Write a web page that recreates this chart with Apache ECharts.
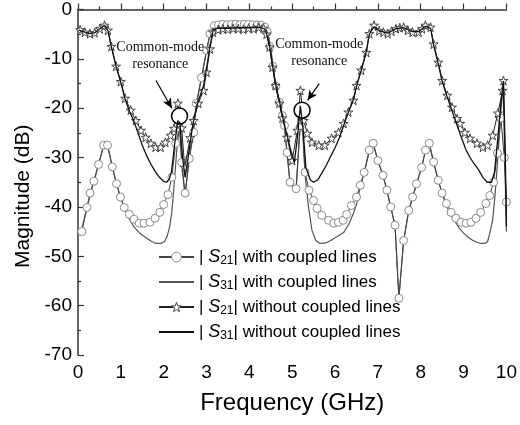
<!DOCTYPE html>
<html>
<head>
<meta charset="utf-8">
<script src="https://cdn.jsdelivr.net/npm/echarts@6/dist/echarts.min.js"></script>
<style>
  html, body { margin: 0; padding: 0; background: #fff; }
  #chart { width: 520px; height: 425px; }
</style>
</head>
<body>
<div id="chart"></div>
<script>
// values: [frequency GHz, magnitude dB]
var s21With = [
  [0.09,-45.0],[0.21,-40.1],[0.28,-37.2],[0.37,-34.8],[0.48,-31.4],[0.60,-27.5],[0.69,-27.5],
  [0.80,-31.9],[0.90,-35.3],[0.99,-38.0],[1.08,-40.1],[1.20,-41.5],[1.31,-42.5],[1.43,-43.3],
  [1.54,-43.3],[1.68,-43.1],[1.80,-42.3],[1.91,-41.1],[2.00,-39.5],[2.10,-37.5],[2.19,-34.0],
  [2.28,-27.1],[2.37,-24.0],[2.42,-31.0],[2.50,-37.2],[2.60,-30.2],[2.70,-24.9],[2.76,-19.0],
  [2.88,-13.8],[3.00,-8.3],[3.08,-4.9],[3.18,-3.3],[3.28,-3.1],[3.38,-3.0],[3.48,-3.1],
  [3.58,-3.0],[3.68,-3.0],[3.78,-3.1],[3.88,-3.0],[3.98,-3.0],[4.08,-3.1],[4.18,-3.1],
  [4.28,-3.2],[4.36,-3.6],[4.42,-4.6],[4.48,-7.5],[4.55,-11.5],[4.62,-15.5],[4.70,-18.8],
  [4.77,-21.5],[4.82,-23.5],[4.88,-29.0],[4.95,-35.0],[5.09,-36.3],[5.18,-23.9],[5.23,-22.0],
  [5.30,-33.0],[5.39,-36.6],[5.50,-38.7],[5.58,-40.3],[5.69,-41.7],[5.85,-42.7],[5.97,-43.3],
  [6.08,-43.1],[6.19,-42.7],[6.27,-41.5],[6.38,-39.7],[6.50,-38.0],[6.59,-35.6],[6.68,-33.0],
  [6.80,-28.5],[6.89,-27.1],[7.00,-30.6],[7.12,-33.6],[7.21,-36.6],[7.30,-40.0],[7.40,-43.7],
  [7.49,-58.5],[7.60,-46.8],[7.72,-40.7],[7.81,-38.0],[7.90,-35.3],[8.02,-32.0],[8.11,-28.5],
  [8.20,-27.1],[8.30,-30.9],[8.41,-34.6],[8.50,-37.2],[8.60,-39.3],[8.71,-41.1],[8.82,-42.3],
  [8.94,-43.1],[9.06,-43.3],[9.17,-43.1],[9.29,-42.3],[9.40,-41.1],[9.52,-39.3],[9.61,-37.7],
  [9.70,-35.0],[9.79,-29.1],[9.87,-22.0],[9.95,-30.0],[10.0,-39.0]
];

var s31With = [
  [0.06,-45.5],[0.21,-40.1],[0.37,-34.8],[0.48,-31.4],[0.60,-27.5],[0.69,-27.5],[0.80,-31.9],
  [0.90,-35.3],[0.99,-38.0],[1.08,-40.1],[1.20,-42.5],[1.31,-44.1],[1.45,-45.4],[1.58,-46.2],
  [1.70,-46.9],[1.82,-47.4],[1.94,-47.4],[2.02,-47.0],[2.08,-46.0],[2.14,-44.0],[2.19,-41.0],
  [2.24,-36.0],[2.30,-29.0],[2.37,-23.0],[2.43,-32.0],[2.50,-38.0],[2.58,-31.0],[2.68,-25.0],
  [2.76,-19.5],[2.88,-14.0],[3.00,-8.5],[3.08,-5.0],[3.20,-3.3],[3.50,-3.2],[3.80,-3.2],
  [4.10,-3.2],[4.30,-3.3],[4.36,-3.7],[4.42,-4.8],[4.50,-7.4],[4.55,-11.8],[4.62,-15.8],
  [4.70,-19.0],[4.77,-21.8],[4.82,-23.8],[4.88,-29.3],[4.95,-35.3],[5.09,-36.6],[5.18,-24.2],
  [5.23,-22.3],[5.30,-33.5],[5.38,-40.0],[5.46,-44.7],[5.55,-46.8],[5.65,-47.4],[5.78,-47.3],
  [5.90,-46.8],[6.05,-46.0],[6.20,-45.2],[6.32,-43.5],[6.42,-41.5],[6.50,-39.5],[6.59,-36.0],
  [6.68,-33.1],[6.80,-28.6],[6.89,-27.2],[7.00,-30.7],[7.12,-33.7],[7.21,-36.7],[7.30,-40.1],
  [7.40,-43.8],[7.49,-58.4],[7.60,-46.9],[7.72,-40.8],[7.81,-38.1],[7.90,-35.4],[8.02,-32.1],
  [8.11,-28.6],[8.20,-27.2],[8.30,-31.0],[8.41,-34.7],[8.50,-37.3],[8.60,-39.8],[8.70,-41.5],
  [8.80,-43.0],[8.90,-44.3],[9.00,-45.3],[9.10,-46.1],[9.20,-46.7],[9.30,-47.1],[9.40,-47.4],
  [9.50,-47.4],[9.56,-47.0],[9.62,-45.0],[9.68,-42.5],[9.74,-37.0],[9.80,-30.0],[9.86,-22.0],
  [9.92,-15.0],[9.96,-30.0],[10.0,-45.0]
];

var s21Without = [
  [0.05,-4.1],[0.16,-4.6],[0.28,-4.9],[0.39,-4.7],[0.51,-3.9],[0.62,-3.2],[0.70,-4.2],
  [0.78,-7.5],[0.89,-11.5],[1.00,-14.6],[1.10,-18.0],[1.23,-20.4],[1.35,-22.5],[1.47,-24.5],
  [1.58,-25.9],[1.70,-27.1],[1.81,-27.9],[1.93,-27.9],[2.04,-26.9],[2.16,-25.5],[2.24,-24.1],
  [2.33,-19.0],[2.42,-24.0],[2.49,-32.0],[2.62,-26.0],[2.70,-22.5],[2.81,-19.0],[2.93,-16.4],
  [3.00,-12.7],[3.08,-8.0],[3.15,-4.6],[3.27,-4.1],[3.38,-3.9],[3.50,-4.0],[3.62,-3.8],
  [3.74,-3.9],[3.86,-4.0],[3.98,-3.8],[4.10,-3.9],[4.22,-3.6],[4.33,-3.8],[4.40,-5.0],
  [4.47,-7.6],[4.54,-11.7],[4.61,-15.4],[4.70,-19.0],[4.77,-22.0],[4.88,-25.9],[5.00,-30.6],
  [5.12,-24.5],[5.19,-16.4],[5.27,-22.5],[5.35,-25.1],[5.46,-26.9],[5.62,-27.5],[5.76,-27.5],
  [5.92,-26.1],[6.08,-24.9],[6.20,-23.1],[6.31,-20.8],[6.43,-18.4],[6.50,-15.4],[6.61,-12.3],
  [6.73,-8.7],[6.80,-4.9],[6.91,-3.2],[7.03,-4.3],[7.13,-4.6],[7.23,-4.9],[7.32,-4.4],
  [7.42,-3.9],[7.51,-3.7],[7.60,-3.6],[7.70,-4.2],[7.81,-4.6],[7.95,-4.6],[8.03,-3.9],
  [8.11,-3.2],[8.23,-3.6],[8.30,-7.0],[8.41,-10.7],[8.50,-14.4],[8.62,-17.4],[8.73,-19.8],
  [8.85,-22.1],[8.92,-23.1],[9.03,-24.9],[9.15,-26.1],[9.31,-27.1],[9.45,-27.9],[9.56,-27.5],
  [9.68,-25.5],[9.80,-21.0],[9.91,-16.4],[9.93,-14.4],[9.97,-30.0],[10.0,-42.0]
];

var s31Without = [
  [0.02,-4.2],[0.16,-4.6],[0.28,-4.9],[0.39,-4.7],[0.51,-3.9],[0.62,-3.2],[0.70,-4.3],
  [0.78,-7.6],[0.89,-11.6],[1.00,-14.8],[1.10,-18.2],[1.20,-20.6],[1.30,-22.5],[1.40,-25.0],
  [1.50,-27.5],[1.60,-29.6],[1.70,-31.3],[1.80,-32.8],[1.90,-34.0],[2.00,-34.8],[2.07,-35.0],
  [2.13,-34.3],[2.18,-33.0],[2.26,-27.0],[2.33,-22.5],[2.38,-23.0],[2.44,-30.0],[2.50,-34.0],
  [2.57,-30.0],[2.65,-25.0],[2.72,-21.5],[2.81,-18.5],[2.93,-15.5],[3.00,-12.0],[3.08,-7.5],
  [3.15,-4.3],[3.25,-3.8],[3.50,-3.8],[3.75,-3.7],[4.00,-3.7],[4.25,-3.6],[4.35,-3.9],
  [4.40,-4.8],[4.47,-7.3],[4.54,-11.3],[4.61,-15.0],[4.70,-18.5],[4.77,-21.5],[4.85,-24.5],
  [4.95,-28.0],[5.05,-31.0],[5.12,-26.0],[5.19,-19.5],[5.25,-24.0],[5.32,-32.0],[5.42,-34.5],
  [5.50,-35.0],[5.60,-34.5],[5.70,-33.0],[5.80,-31.5],[5.90,-29.7],[6.00,-28.0],[6.10,-26.0],
  [6.20,-23.5],[6.31,-20.8],[6.43,-18.2],[6.50,-15.6],[6.61,-12.3],[6.73,-8.5],[6.80,-5.0],
  [6.91,-3.5],[7.03,-4.3],[7.23,-4.8],[7.42,-3.9],[7.60,-3.7],[7.81,-4.5],[7.95,-4.5],
  [8.11,-3.4],[8.23,-3.8],[8.30,-7.2],[8.41,-11.0],[8.50,-14.6],[8.62,-17.8],[8.73,-20.5],
  [8.85,-23.5],[8.95,-26.0],[9.05,-28.3],[9.15,-30.0],[9.25,-31.3],[9.35,-32.5],[9.45,-34.0],
  [9.55,-35.0],[9.65,-35.0],[9.72,-33.0],[9.80,-26.0],[9.87,-19.0],[9.93,-14.5],[9.97,-28.0],
  [10.0,-44.0]
];

var xTicks = [0, 1, 2, 3, 4, 5, 6, 7, 8, 9, 10];
var yTicks = [0, -10, -20, -30, -40, -50, -60, -70];

// annotation anchors (data space)
var resonances = [[2.37, -21.6], [5.23, -20.4]];
var noteCentres = [[1.92, -9.3], [5.63, -8.7]];
var arrows = [[[1.82, -14.4], [2.19, -20.0]], [[5.63, -15.0], [5.36, -18.4]]];

var starPath = 'path://M50,2 L61,36 L97,36 L68,57 L79,92 L50,71 L21,92 L32,57 L3,36 L39,36 Z';
var sansFont = '"Liberation Sans", Arial, sans-serif';
var serifFont = '"Liberation Serif", "Times New Roman", serif';

var circleStyle = { color: '#fff', borderColor: '#8a8a8a', borderWidth: 1 };
var starStyle = { color: '#fff', borderColor: '#444', borderWidth: 1 };

var legendText = {
  s21With: ['21', 'with coupled lines'],
  s31With: ['31', 'with coupled lines'],
  s21Without: ['21', 'without coupled lines'],
  s31Without: ['31', 'without coupled lines']
};

// the steep drop after the last spike carries no marker
function tailless(points) {
  var n = points.length;
  return points.map(function (p, i) {
    return i >= n - 2 ? { value: p, symbol: 'none' } : p;
  });
}

var chart = echarts.init(document.getElementById('chart'), null, { renderer: 'canvas' });

var option = {
  backgroundColor: '#fff',
  animation: false,
  grid: { left: 78, right: 8, top: 9, bottom: 70, containLabel: false },
  legend: {
    orient: 'vertical',
    left: 153,
    top: 242,
    itemWidth: 35,
    itemHeight: 12,
    itemGap: 5,
    data: [
      { name: 's21With', itemStyle: circleStyle },
      { name: 's31With', itemStyle: { opacity: 0 } },
      { name: 's21Without', itemStyle: starStyle },
      { name: 's31Without', itemStyle: { opacity: 0 } }
    ],
    formatter: function (name) {
      var t = legendText[name];
      return '| {s|S}{n|' + t[0] + '}| ' + t[1];
    },
    textStyle: {
      fontFamily: sansFont,
      fontSize: 17,
      color: '#000',
      lineHeight: 20,
      rich: {
        s: { fontFamily: sansFont, fontStyle: 'italic', fontSize: 18, lineHeight: 20 },
        n: { fontFamily: sansFont, fontSize: 12, lineHeight: 20, verticalAlign: 'bottom' }
      }
    }
  },
  xAxis: {
    type: 'value',
    min: xTicks[0],
    max: xTicks[xTicks.length - 1],
    interval: 1,
    name: 'Frequency (GHz)',
    nameLocation: 'middle',
    nameGap: 36,
    nameTextStyle: { fontFamily: sansFont, fontSize: 24, color: '#000' },
    axisLine: { show: true, lineStyle: { color: '#333', width: 1.5 } },
    axisTick: { show: true, inside: true, length: 6, lineStyle: { color: '#333', width: 1.2 } },
    minorTick: { show: true, splitNumber: 2, length: 3, lineStyle: { color: '#333', width: 1.2 } },
    splitLine: { show: false },
    axisLabel: { fontFamily: sansFont, fontSize: 19, color: '#000', margin: 8 }
  },
  yAxis: {
    type: 'value',
    min: yTicks[yTicks.length - 1],
    max: yTicks[0],
    interval: 10,
    name: 'Magnitude (dB)',
    nameLocation: 'middle',
    nameGap: 43,
    nameTextStyle: { fontFamily: sansFont, fontSize: 21, color: '#000', padding: [0, 28, 0, 0] },
    axisLine: { show: true, lineStyle: { color: '#333', width: 1.5 } },
    axisTick: { show: true, inside: true, length: 6, lineStyle: { color: '#333', width: 1.2 } },
    minorTick: { show: true, splitNumber: 2, length: 3, lineStyle: { color: '#333', width: 1.2 } },
    splitLine: { show: false },
    axisLabel: { fontFamily: sansFont, fontSize: 19, color: '#000', margin: 6 }
  },
  series: [
    {
      name: 's21With',
      type: 'line',
      data: s21With,
      symbol: 'circle',
      symbolSize: 8,
      showSymbol: true,
      lineStyle: { color: '#444', width: 1 },
      itemStyle: circleStyle,
      z: 3
    },
    {
      name: 's31With',
      type: 'line',
      data: s31With,
      showSymbol: false,
      symbol: 'none',
      lineStyle: { color: '#555', width: 1.2 },
      itemStyle: { color: '#555' },
      z: 2
    },
    {
      name: 's21Without',
      type: 'line',
      data: tailless(s21Without),
      symbol: starPath,
      symbolSize: 9,
      showSymbol: true,
      lineStyle: { color: '#222', width: 1 },
      itemStyle: starStyle,
      z: 4
    },
    {
      name: 's31Without',
      type: 'line',
      data: s31Without,
      showSymbol: false,
      symbol: 'none',
      lineStyle: { color: '#111', width: 1.3 },
      itemStyle: { color: '#111' },
      z: 5,
      markPoint: {
        silent: true,
        animation: false,
        data: resonances.map(function (c) {
          return {
            coord: c, symbol: 'circle', symbolSize: 16,
            itemStyle: { color: '#fff', borderColor: '#000', borderWidth: 1.5 },
            label: { show: false }
          };
        }).concat(noteCentres.map(function (c) {
          return {
            coord: c, symbol: 'circle', symbolSize: 0,
            label: {
              show: true, position: 'inside',
              formatter: 'Common-mode\nresonance',
              fontFamily: serifFont, fontSize: 14, lineHeight: 17, color: '#111'
            }
          };
        }))
      },
      markLine: {
        silent: true,
        animation: false,
        symbol: ['none', 'arrow'],
        symbolSize: [7, 10],
        label: { show: false },
        lineStyle: { color: '#000', width: 1.2, type: 'solid' },
        data: arrows.map(function (a) {
          return [{ coord: a[0] }, { coord: a[1] }];
        })
      }
    }
  ]
};

chart.setOption(option);
</script>
</body>
</html>
